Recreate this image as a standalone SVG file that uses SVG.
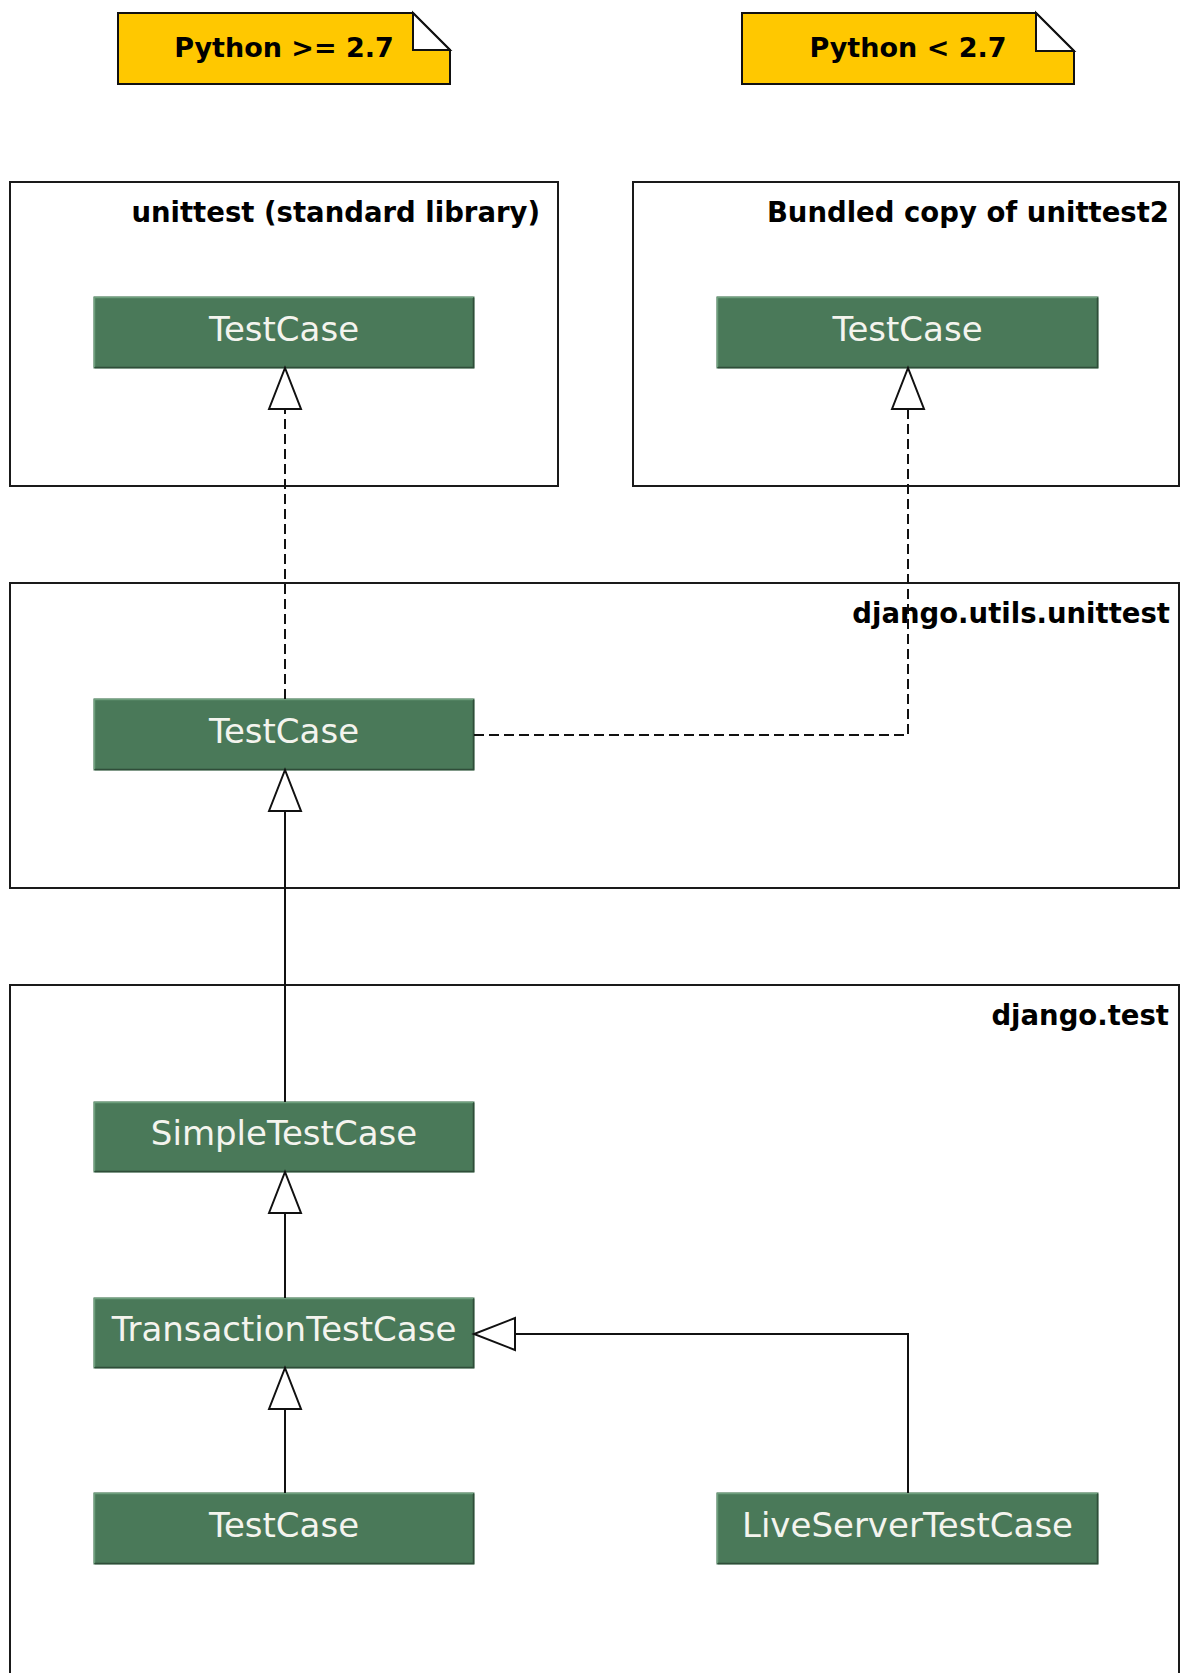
<svg xmlns="http://www.w3.org/2000/svg" width="1181" height="1673" viewBox="0 0 1181 1673">
  <defs>
    <marker id="gen" viewBox="0 0 41 32" refX="41" refY="16" markerWidth="41" markerHeight="32" markerUnits="userSpaceOnUse" orient="auto" overflow="visible">
      <path d="M0,0 L41,16 L0,32 Z" fill="#ffffff" stroke="#111111" stroke-width="2" stroke-dasharray="none" stroke-linejoin="miter"/>
    </marker>
  </defs>
  <style>
    .pkg { fill: #ffffff; stroke: #1a1a1a; stroke-width: 2; }
    .pkgtitle { font-family: "DejaVu Sans", "Liberation Sans", sans-serif; font-weight: bold; font-size: 27.5px; fill: #000000; text-anchor: end; }
    .note { fill: #ffc800; stroke: #111111; stroke-width: 2; stroke-linejoin: miter; }
    .fold { fill: #ffffff; stroke: #111111; stroke-width: 2; stroke-linejoin: miter; }
    .notetext { font-family: "DejaVu Sans", "Liberation Sans", sans-serif; font-weight: bold; font-size: 27px; fill: #000000; text-anchor: middle; }
    .cls { fill: #4a7959; stroke: #3e6a4c; stroke-width: 1; }
    .hi { fill: none; stroke: #6e9f7d; stroke-width: 1.5; }
    .sh { fill: none; stroke: #2f4d39; stroke-width: 1.5; }
    .clstext { font-family: "DejaVu Sans", "Liberation Sans", sans-serif; font-size: 34px; fill: #f4f4ee; text-anchor: middle; }
    .edge { fill: none; stroke: #111111; stroke-width: 2; }
    .dash { stroke-dasharray: 10 5; }
  </style>
  <rect x="0" y="0" width="1181" height="1673" fill="#ffffff"/>

  <!-- Notes -->
  <g id="note-py27plus">
    <path class="note" d="M118,13 L413,13 L450,50 L450,84 L118,84 Z"/>
    <path class="fold" d="M413,13 L413,50 L450,50 Z"/>
    <text class="notetext" x="284" y="57">Python &gt;= 2.7</text>
  </g>
  <g id="note-py27minus">
    <path class="note" d="M742,13 L1036,13 L1074,51 L1074,84 L742,84 Z"/>
    <path class="fold" d="M1036,13 L1036,51 L1074,51 Z"/>
    <text class="notetext" x="908" y="57">Python &lt; 2.7</text>
  </g>

  <!-- Packages -->
  <g id="pkg-unittest">
    <rect class="pkg" x="10" y="182" width="548" height="304"/>
    <text class="pkgtitle" x="540" y="222">unittest (standard library)</text>
  </g>
  <g id="pkg-unittest2">
    <rect class="pkg" x="633" y="182" width="546" height="304"/>
    <text class="pkgtitle" x="1169" y="222">Bundled copy of unittest2</text>
  </g>
  <g id="pkg-django-utils-unittest">
    <rect class="pkg" x="10" y="583" width="1169" height="305"/>
    <text class="pkgtitle" x="1170" y="623">django.utils.unittest</text>
  </g>
  <g id="pkg-django-test">
    <rect class="pkg" x="10" y="985" width="1169" height="740"/>
    <text class="pkgtitle" x="1169" y="1025">django.test</text>
  </g>

  <!-- Classes -->
  <g id="unittest-TestCase">
    <rect class="cls" x="94" y="297" width="380" height="71"/>
    <path class="hi" d="M94.5,367 L94.5,297.5 L473,297.5"/>
    <path class="sh" d="M95,367.5 L473.5,367.5 L473.5,298"/>
    <text class="clstext" x="284" y="341">TestCase</text>
  </g>
  <g id="unittest2-TestCase">
    <rect class="cls" x="717" y="297" width="381" height="71"/>
    <path class="hi" d="M717.5,367 L717.5,297.5 L1097,297.5"/>
    <path class="sh" d="M718,367.5 L1097.5,367.5 L1097.5,298"/>
    <text class="clstext" x="907.5" y="341">TestCase</text>
  </g>
  <g id="django-utils-TestCase">
    <rect class="cls" x="94" y="699" width="380" height="71"/>
    <path class="hi" d="M94.5,769 L94.5,699.5 L473,699.5"/>
    <path class="sh" d="M95,769.5 L473.5,769.5 L473.5,700"/>
    <text class="clstext" x="284" y="743">TestCase</text>
  </g>
  <g id="SimpleTestCase">
    <rect class="cls" x="94" y="1102" width="380" height="70"/>
    <path class="hi" d="M94.5,1171 L94.5,1102.5 L473,1102.5"/>
    <path class="sh" d="M95,1171.5 L473.5,1171.5 L473.5,1103"/>
    <text class="clstext" x="284" y="1145">SimpleTestCase</text>
  </g>
  <g id="TransactionTestCase">
    <rect class="cls" x="94" y="1298" width="380" height="70"/>
    <path class="hi" d="M94.5,1367 L94.5,1298.5 L473,1298.5"/>
    <path class="sh" d="M95,1367.5 L473.5,1367.5 L473.5,1299"/>
    <text class="clstext" x="284" y="1341">TransactionTestCase</text>
  </g>
  <g id="django-test-TestCase">
    <rect class="cls" x="94" y="1493" width="380" height="71"/>
    <path class="hi" d="M94.5,1563 L94.5,1493.5 L473,1493.5"/>
    <path class="sh" d="M95,1563.5 L473.5,1563.5 L473.5,1494"/>
    <text class="clstext" x="284" y="1537">TestCase</text>
  </g>
  <g id="LiveServerTestCase">
    <rect class="cls" x="717" y="1493" width="381" height="71"/>
    <path class="hi" d="M717.5,1563 L717.5,1493.5 L1097,1493.5"/>
    <path class="sh" d="M718,1563.5 L1097.5,1563.5 L1097.5,1494"/>
    <text class="clstext" x="907.5" y="1537">LiveServerTestCase</text>
  </g>

  <!-- Connectors -->
  <g id="connectors">
    <path class="edge dash" d="M285,699 L285,368" marker-end="url(#gen)"/>
    <path class="edge dash" d="M474,735 L908,735 L908,368" marker-end="url(#gen)"/>
    <path class="edge" d="M285,1102 L285,770" marker-end="url(#gen)"/>
    <path class="edge" d="M285,1298 L285,1172" marker-end="url(#gen)"/>
    <path class="edge" d="M285,1493 L285,1368" marker-end="url(#gen)"/>
    <path class="edge" d="M908,1493 L908,1334 L474,1334" marker-end="url(#gen)"/>
  </g>
</svg>
